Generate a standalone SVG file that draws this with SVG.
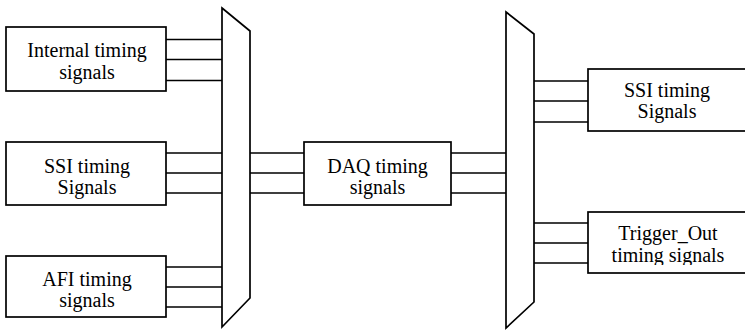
<svg xmlns="http://www.w3.org/2000/svg" width="745" height="330" viewBox="0 0 745 330">
<style>
.box{fill:#fff;stroke:#000;stroke-width:1.7}
.mux{fill:#fff;stroke:#000;stroke-width:1.7;stroke-linejoin:miter}
.ln{stroke:#000;stroke-width:1.7;fill:none}
.t{font-family:'Liberation Serif','DejaVu Serif',serif;font-size:20px;fill:#000;text-anchor:middle}
</style>
<defs>
<clipPath id="clipTrig"><rect x="588" y="212" width="160" height="53"/></clipPath>
</defs>
<g id="connectors">
<path class="ln" d="M166 39.5H222M166 59.5H222M166 80.5H222"/>
<path class="ln" d="M166 153H222M166 173H222M166 193H222"/>
<path class="ln" d="M166 267H222M166 287H222M166 307H222"/>
<path class="ln" d="M250 153H304M250 173H304M250 193H304"/>
<path class="ln" d="M451 153H506M451 173H506M451 193H506"/>
<path class="ln" d="M534 81H588M534 101H588M534 122H588"/>
<path class="ln" d="M534 223H588M534 243H588M534 263H588"/>
</g>
<g id="mux1"><polygon class="mux" points="222,8 250,31 250,298 222,327"/></g>
<g id="mux2"><polygon class="mux" points="506,12 534,34 534,302 506,328"/></g>
<g id="internal">
<rect class="box" x="6" y="27" width="160" height="64"/>
<text class="t" font-family="Liberation Serif, serif" x="87" y="57">Internal timing</text>
<text class="t" font-family="Liberation Serif, serif" x="87" y="79">signals</text>
</g>
<g id="ssi-left">
<rect class="box" x="6" y="142" width="160" height="63"/>
<text class="t" font-family="Liberation Serif, serif" x="87" y="173">SSI timing</text>
<text class="t" font-family="Liberation Serif, serif" x="87" y="194">Signals</text>
</g>
<g id="afi">
<rect class="box" x="6" y="256" width="160" height="61"/>
<text class="t" font-family="Liberation Serif, serif" x="87" y="285.5">AFI timing</text>
<text class="t" font-family="Liberation Serif, serif" x="87" y="306.5">signals</text>
</g>
<g id="daq">
<rect class="box" x="304" y="142" width="147" height="63"/>
<text class="t" font-family="Liberation Serif, serif" x="377.5" y="173">DAQ timing</text>
<text class="t" font-family="Liberation Serif, serif" x="377.5" y="194">signals</text>
</g>
<g id="ssi-right">
<rect class="box" x="588" y="69" width="160" height="62"/>
<text class="t" font-family="Liberation Serif, serif" x="667" y="97">SSI timing</text>
<text class="t" font-family="Liberation Serif, serif" x="667" y="118">Signals</text>
</g>
<g id="trigger">
<rect class="box" x="588" y="212" width="160" height="61"/>
<text class="t" font-family="Liberation Serif, serif" x="668" y="240">Trigger_Out</text>
<text class="t" font-family="Liberation Serif, serif" x="668" y="262" clip-path="url(#clipTrig)">timing signals</text>
</g>
</svg>
